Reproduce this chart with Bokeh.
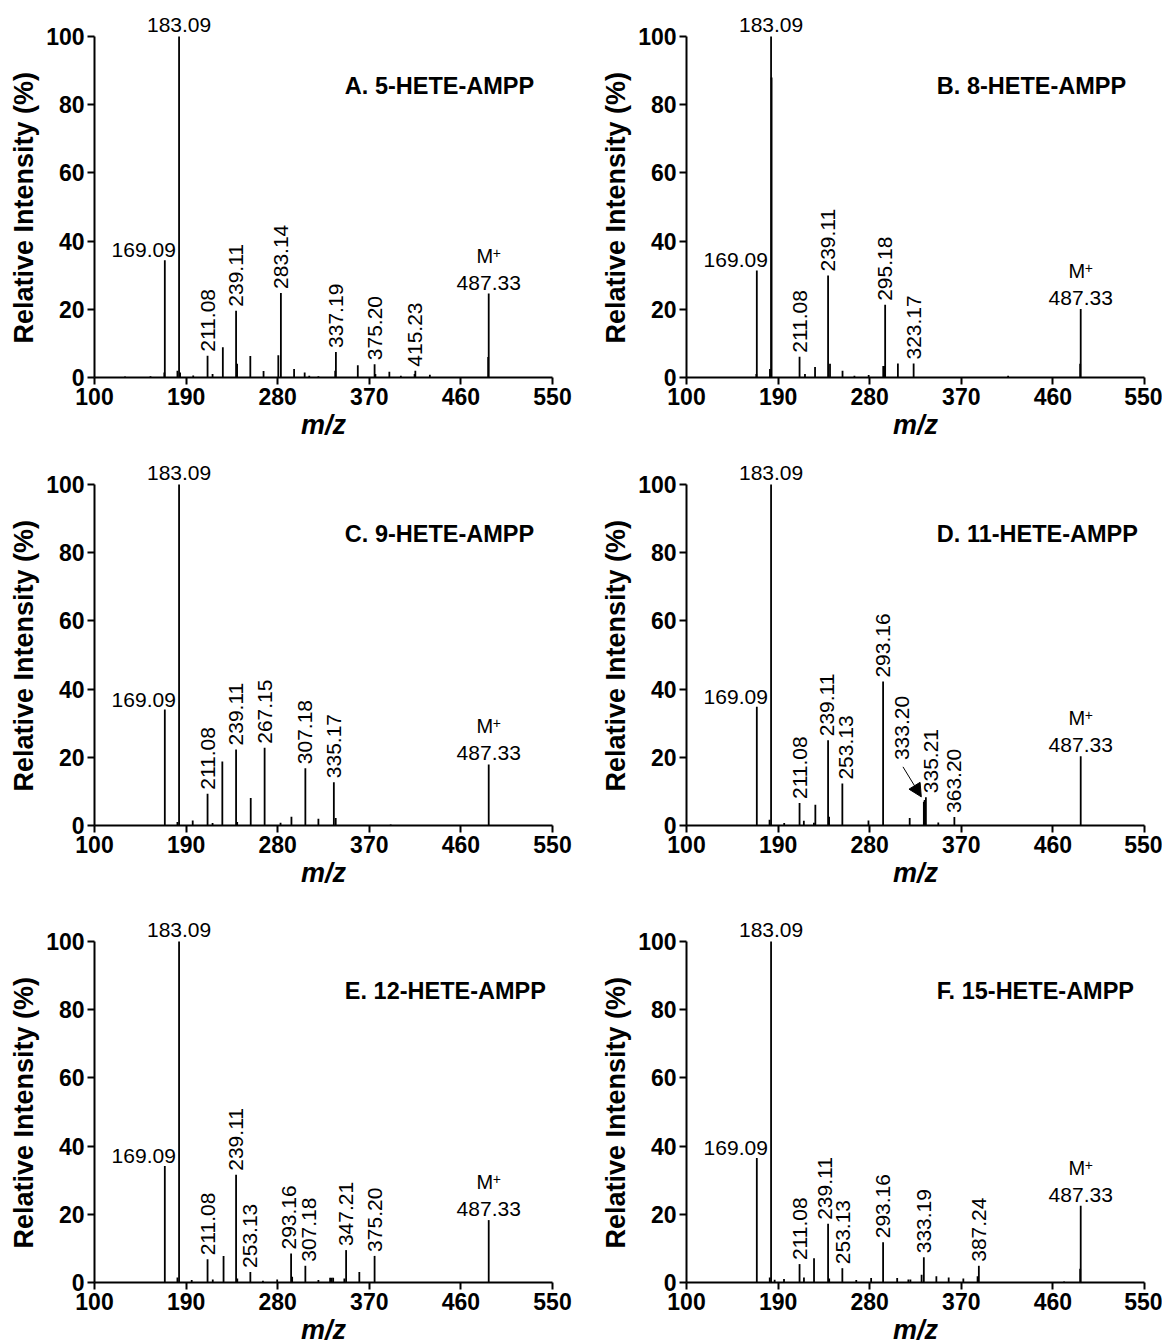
import math
from bokeh.plotting import figure
from bokeh.layouts import column, row
from bokeh.models import Range1d, ColumnDataSource, Arrow, NormalHead, FixedTicker, Label, Title
from bokeh.core.properties import value
from bokeh.embed import file_html
from bokeh.resources import INLINE

FONT = "Liberation Sans"

# ---------------- data ----------------
titles = ["A. 5-HETE-AMPP", "B. 8-HETE-AMPP", "C. 9-HETE-AMPP",
          "D. 11-HETE-AMPP", "E. 12-HETE-AMPP", "F. 15-HETE-AMPP"]

x_ticks = [100, 190, 280, 370, 460, 550]
y_ticks = [0, 20, 40, 60, 80, 100]

mz_A = [130, 155, 168.6, 169.09, 181.5, 183.09, 184.1, 197, 211.08, 216, 226.1, 239.11, 240.1,
        253.1, 266.1, 280.6, 283.14, 296.1, 306.5, 311, 320, 336.5, 337.19, 358.7, 375.20, 376,
        389.7, 401, 414.5, 415.23, 429.5, 486.8, 487.33]
int_A = [0.3, 0.4, 1.5, 34.4, 2.0, 100, 1.5, 0.6, 6.4, 1.0, 8.9, 19.6, 4.0,
         6.3, 1.9, 6.5, 24.8, 2.5, 1.5, 0.5, 0.4, 2.0, 7.5, 3.6, 3.9, 1.0,
         1.7, 0.5, 1.0, 2.0, 0.8, 6.0, 24.6]
lab_A = ["169.09", "183.09", "211.08", "239.11", "283.14", "337.19", "375.20", "415.23", "487.33"]

mz_B = [168.6, 169.09, 182.0, 183.09, 183.6, 211.08, 216.4, 226.3, 239.11, 241, 253.3, 265, 279,
        293.3, 294.2, 295.18, 307.7, 323.17, 416, 486.8, 487.33]
int_B = [1.0, 31.4, 2.5, 100, 88, 6.1, 1.0, 3.1, 29.9, 4.0, 2.0, 0.5, 0.7,
         3.4, 3.4, 21.3, 4.1, 4.1, 0.5, 4.0, 20.1]
lab_B = ["169.09", "183.09", "211.08", "239.11", "295.18", "323.17", "487.33"]

mz_C = [169.09, 181.5, 183.09, 196.5, 211.08, 216, 225.6, 239.11, 240.2, 253.5, 267.15, 282.8,
        293.5, 307.18, 320, 335.17, 337, 391, 487.33]
int_C = [34.0, 1.0, 100, 1.5, 9.3, 0.7, 18.8, 22.3, 1.0, 8.1, 22.8, 0.8,
         2.6, 16.8, 2.0, 12.7, 2.2, 0.3, 17.9]
lab_C = ["169.09", "183.09", "211.08", "239.11", "267.15", "307.18", "335.17", "487.33"]

mz_D = [169.09, 181.6, 183.09, 196, 211.08, 215.3, 225.2, 226.6, 239.11, 240.1, 253.13, 278.8,
        293.16, 319.3, 333.20, 334.0, 335.21, 347.4, 363.20, 487.33]
int_D = [34.8, 1.7, 100, 0.7, 6.6, 1.4, 0.8, 6.1, 25.0, 2.6, 12.3, 1.5,
         42.2, 2.2, 7.0, 7.5, 8.3, 0.9, 2.5, 20.3]
lab_D = ["169.09", "183.09", "211.08", "239.11", "253.13", "293.16", "333.20", "335.21",
         "363.20", "487.33"]

mz_E = [169.09, 181.5, 183.09, 195.5, 211.08, 216.2, 226.8, 239.11, 240.3, 253.13, 265.5, 279.5,
        293.16, 294.2, 307.18, 320, 331.5, 333, 334.5, 345.5, 347.21, 360.2, 375.20, 487.33]
int_E = [34.2, 1.5, 100, 0.7, 6.8, 0.9, 7.8, 31.6, 1.2, 3.1, 0.5, 0.9,
         8.5, 1.7, 4.9, 0.7, 1.4, 1.4, 1.4, 1.2, 9.5, 3.1, 7.8, 18.3]
lab_E = ["169.09", "183.09", "211.08", "239.11", "253.13", "293.16", "307.18", "347.21",
         "375.20", "487.33"]

mz_F = [169.09, 181.8, 183.09, 186.6, 195.8, 211.08, 215.4, 225.3, 239.11, 240.2, 253.13, 266.8,
        281.4, 293.16, 307, 318, 320, 331, 333.19, 345.5, 357.6, 372, 386, 387.24, 471, 486.8,
        487.33]
int_F = [36.5, 1.5, 100, 0.8, 1.0, 5.4, 1.5, 7.1, 17.2, 1.2, 4.2, 0.7,
         1.3, 11.8, 1.3, 0.9, 0.9, 2.3, 7.4, 1.8, 1.5, 1.2, 1.8, 4.9, 0.3, 4.0,
         22.5]
lab_F = ["169.09", "183.09", "211.08", "239.11", "253.13", "293.16", "333.19", "387.24", "487.33"]

panels = [(mz_A, int_A, lab_A), (mz_B, int_B, lab_B), (mz_C, int_C, lab_C),
          (mz_D, int_D, lab_D), (mz_E, int_E, lab_E), (mz_F, int_F, lab_F)]

# ---------------- layout / style ----------------
FRAME_W = 458
FRAME_H = 368
Y_TOP = 107.92
BORDER_LEFT = [94, 94]
BORDER_RIGHT = [40, 18]
BORDER_TOP = [9, 12, 21]
BORDER_BOTTOM = [68, 68, 68]

LABEL_SIZE = "21px"
# small horizontal pixel nudges of crowded rotated labels (panel index, label)
NUDGE = {(3, "239.11"): -1, (3, "253.13"): 4, (3, "335.21"): 5,
         (4, "293.16"): -2, (4, "307.18"): 4, (5, "239.11"): -3, (5, "253.13"): 1}


def make_panel(i):
    mz, inten, labs = panels[i]
    c, r = i % 2, i // 2
    p = figure(frame_width=FRAME_W, frame_height=FRAME_H,
               x_range=Range1d(100, 550), y_range=Range1d(0, Y_TOP),
               output_backend="svg", toolbar_location=None,
               min_border_left=BORDER_LEFT[c], min_border_right=BORDER_RIGHT[c],
               min_border_top=BORDER_TOP[r], min_border_bottom=BORDER_BOTTOM[r])
    p.outline_line_color = None
    p.xgrid.visible = False
    p.ygrid.visible = False
    p.background_fill_color = "white"
    p.border_fill_color = "white"

    for ax in (p.xaxis[0], p.yaxis[0]):
        ax.axis_line_width = 2
        ax.axis_line_color = "black"
        ax.major_tick_line_width = 2
        ax.major_tick_line_color = "black"
        ax.major_tick_in = 0
        ax.major_tick_out = 7
        ax.minor_tick_line_color = None
        ax.major_label_text_font = FONT
        ax.major_label_text_font_style = "bold"
        ax.major_label_text_font_size = "23px"
        ax.major_label_text_color = "black"
        ax.axis_label_text_font = FONT
        ax.axis_label_text_font_style = "bold"
        ax.axis_label_text_color = "black"

    p.xaxis.ticker = FixedTicker(ticks=x_ticks)
    p.yaxis.ticker = FixedTicker(ticks=y_ticks)
    p.xaxis.bounds = (100, 550)
    p.yaxis.bounds = (0, 100)
    p.xaxis.axis_label = "m/z"
    p.xaxis.axis_label_text_font_style = "bold italic"
    p.xaxis.axis_label_text_font_size = "27px"
    p.xaxis.axis_label_standoff = 2
    p.xaxis.major_label_standoff = 3
    p.yaxis.major_label_standoff = 3

    # y-axis title, placed so that it is centred on the 0-100 part of the axis
    p.add_layout(Title(text="Relative Intensity (%)", align="left", offset=34,
                       text_font=FONT, text_font_style="bold", text_font_size="27px",
                       text_color="black", standoff=10), "left")

    # peaks
    p.segment(x0=mz, y0=[0] * len(mz), x1=mz, y1=inten, line_color="black", line_width=1.8)

    peak = {f"{m:.2f}": v for m, v in zip(mz, inten)}

    rot = {"x": [], "y": [], "t": [], "dx": []}
    for lab in labs:
        m = float(lab)
        h = peak[lab]
        if lab == "169.09":
            p.text(x=[m], y=[h], text=[lab], text_align="right", text_baseline="bottom",
                   x_offset=11, y_offset=-3, text_font=value(FONT), text_font_size=LABEL_SIZE,
                   text_color="black")
        elif lab == "183.09":
            p.text(x=[m], y=[h], text=[lab], text_align="center", text_baseline="bottom",
                   y_offset=-5, text_font=value(FONT), text_font_size=LABEL_SIZE,
                   text_color="black")
        elif lab == "487.33":
            p.text(x=[m], y=[h], text=[lab], text_align="center", text_baseline="bottom",
                   y_offset=-4, text_font=value(FONT), text_font_size=LABEL_SIZE,
                   text_color="black")
            p.text(x=[m], y=[h], text=["M"], text_align="center", text_baseline="bottom",
                   x_offset=-4, y_offset=-27, text_font=value(FONT), text_font_size="20px",
                   text_color="black")
            p.text(x=[m], y=[h], text=["+"], text_align="left", text_baseline="bottom",
                   x_offset=4, y_offset=-36, text_font=value(FONT), text_font_size="14px",
                   text_color="black")
        elif lab == "333.20":
            # label placed away from the peak with an arrow pointing to it
            lx, ly = m - 21, h + 11
            rot["x"].append(lx)
            rot["y"].append(ly)
            rot["t"].append(lab)
            rot["dx"].append(0)
            p.add_layout(Arrow(end=NormalHead(size=13, fill_color="black", line_color="black"),
                               x_start=lx + 0.5, y_start=ly - 0.8, x_end=m - 2.5, y_end=h + 1.4,
                               line_color="black", line_width=1))
        else:
            rot["x"].append(m)
            rot["y"].append(h)
            rot["t"].append(lab)
            rot["dx"].append(NUDGE.get((i, lab), 0))

    p.text(x="x", y="y", text="t", source=ColumnDataSource(rot), angle=math.pi / 2,
           text_align="left", text_baseline="middle", x_offset="dx", y_offset=-4,
           text_font=value(FONT), text_font_size=LABEL_SIZE, text_color="black")

    p.add_layout(Label(x=346, y=85.5, text=titles[i], text_align="left", text_baseline="middle",
                       text_font=FONT, text_font_style="bold", text_font_size="23.5px",
                       text_color="black"))
    return p


figs = [make_panel(i) for i in range(6)]
layout = column(row(figs[0], figs[1]), row(figs[2], figs[3]), row(figs[4], figs[5]))

open("out.html", "w").write(file_html(layout, INLINE))
